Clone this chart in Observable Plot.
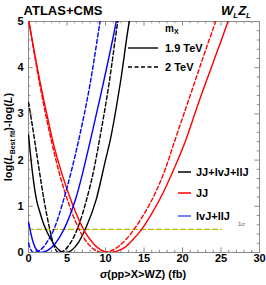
<!DOCTYPE html>
<html><head><meta charset="utf-8">
<script src="https://cdn.jsdelivr.net/npm/d3@7"></script>
<script src="https://cdn.jsdelivr.net/npm/@observablehq/plot@0.6"></script>
<style>body{margin:0;background:#fff} svg{display:block}</style>
</head><body><div id="chart"></div>
<script>
// ---- data ----
const xTicks = [0, 5, 10, 15, 20, 25, 30];
const yTicks = [0, 1, 2, 3, 4, 5];
const xMinorTicks = [0,1,2,3,4,5,6,7,8,9,10,11,12,13,14,15,16,17,18,19,20,21,22,23,24,25,26,27,28,29,30];
const yMinorTicks = [0,0.2,0.4,0.6,0.8,1,1.2,1.4,1.6,1.8,2,2.2,2.4,2.6,2.8,3,3.2,3.4,3.6,3.8,4,4.2,4.4,4.6,4.8,5];

// JJ+lvJ+llJ
const allSolidX = [0, 0.5, 1, 1.5, 2, 3, 4, 4.8, 5.6, 6.5, 7.5, 8.8, 10, 10.6, 12, 13.1, 13.5];
const allSolidY = [2.55, 1.75, 1.17, 0.86, 0.6, 0.26, 0.05, 0, 0.05, 0.22, 0.55, 1.15, 2.0, 2.42, 3.75, 5.0, 5.3];
const allDashX = [0, 0.4, 0.8, 1.3, 2.0, 2.7, 3.3, 3.9, 4.5, 5.5, 6.5, 7.5, 8.5, 9.2, 10.5, 11.6, 12];
const allDashY = [3.25, 2.85, 2.42, 1.88, 1.15, 0.55, 0.15, 0, 0.03, 0.22, 0.58, 1.12, 1.8, 2.42, 3.7, 5.0, 5.4];
// JJ
const jjSolidX = [0, 1.2, 2.5, 3.1, 4.5, 5.7, 7, 8.5, 9.5, 10.5, 11.5, 12.5, 13.5, 14.7, 16, 17.5, 19, 20.4, 22, 24, 25.9, 26.5];
const jjSolidY = [5.05, 3.95, 2.9, 2.45, 1.62, 1.05, 0.55, 0.18, 0.045, 0, 0.03, 0.11, 0.27, 0.5, 0.84, 1.3, 1.85, 2.42, 3.2, 4.12, 5.0, 5.3];
const jjDashX = [0, 1.1, 2.3, 2.9, 4, 5.3, 6.4, 7.5, 8.5, 9.6, 10.6, 11.6, 12.6, 13.7, 15, 16.5, 17.8, 19, 21, 23, 24.3, 24.8];
const jjDashY = [5.07, 3.97, 2.93, 2.47, 1.72, 1.02, 0.56, 0.24, 0.067, 0, 0.03, 0.12, 0.27, 0.5, 0.83, 1.3, 1.82, 2.42, 3.4, 4.38, 5.0, 5.25];
// lvJ+llJ
const lepSolidX = [0, 0.5, 1, 1.6, 2.5, 3.5, 4.6, 6.2, 8.0, 9.5, 11.4, 11.8];
const lepSolidY = [0.66, 0.28, 0.07, 0, 0.045, 0.2, 0.5, 1.2, 2.4, 3.5, 5.0, 5.35];
const lepDashX = [0, 0.3, 0.7, 1.5, 2.5, 3.3, 4.4, 5.5, 6.5, 8, 9.3, 9.7];
const lepDashY = [0.2, 0.06, 0, 0.05, 0.25, 0.5, 1.05, 1.72, 2.42, 3.65, 5.0, 5.4];

const sigmaLineX = [0, 25];
const sigmaLevel = 0.5;

const seriesNames = ["JJ+lvJ+llJ", "JJ", "lvJ+llJ"];
const seriesColors = ["#000000", "#ff0000", "#0000ff"];
const massLabels = ["1.9 TeV", "2 TeV"];

// ---- build tables ----
const curves = [
  {name: "JJ+lvJ+llJ", mass: "1.9 TeV", xs: allSolidX, ys: allSolidY, color: "#000000"},
  {name: "JJ+lvJ+llJ", mass: "2 TeV", xs: allDashX, ys: allDashY, color: "#000000"},
  {name: "JJ", mass: "1.9 TeV", xs: jjSolidX, ys: jjSolidY, color: "#ff0000"},
  {name: "JJ", mass: "2 TeV", xs: jjDashX, ys: jjDashY, color: "#ff0000"},
  {name: "lvJ+llJ", mass: "1.9 TeV", xs: lepSolidX, ys: lepSolidY, color: "#0000ff"},
  {name: "lvJ+llJ", mass: "2 TeV", xs: lepDashX, ys: lepDashY, color: "#0000ff"}
];
const sigmaRows = sigmaLineX.map(x => ({x, y: sigmaLevel}));

const gray = "#8a8a8a";
const xMajLen = 0.6, xMinLen = 0.3, yMajLen = 0.1, yMinLen = 0.05;
const isMajX = d => xTicks.includes(d);
const isMajY = d => Math.abs(d - Math.round(d)) < 1e-9;

const marks = [
  Plot.frame({stroke: gray}),
  Plot.ruleX(xMinorTicks, {x: d => d, y1: 0, y2: d => isMajX(d) ? yMajLen : yMinLen, stroke: gray}),
  Plot.ruleX(xMinorTicks, {x: d => d, y1: 5, y2: d => 5 - (isMajX(d) ? yMajLen : yMinLen), stroke: gray}),
  Plot.ruleY(yMinorTicks, {y: d => d, x1: 0, x2: d => isMajY(d) ? xMajLen : xMinLen, stroke: gray}),
  Plot.ruleY(yMinorTicks, {y: d => d, x1: 30, x2: d => 30 - (isMajY(d) ? xMajLen : xMinLen), stroke: gray}),
  Plot.axisX({ticks: xTicks, tickFormat: "d", tickSize: 0, tickPadding: 2, fontWeight: "bold", fontSize: 11, label: null}),
  Plot.axisY({ticks: yTicks, tickFormat: "d", tickSize: 0, tickPadding: 5, fontWeight: "bold", fontSize: 11, label: null}),
  Plot.line(sigmaRows, {x: "x", y: "y", stroke: "#b8b800", strokeWidth: 1.3, strokeDasharray: "5,3"})
];
for (const c of curves) {
  const rows = c.xs.map((x, i) => ({x, y: c.ys[i]}));
  marks.push(Plot.line(rows, {
    x: "x", y: "y", stroke: c.color, strokeWidth: 1.4, curve: "monotone-x", clip: true,
    strokeDasharray: c.mass === "2 TeV" ? "4,2.5" : null
  }));
}

const svg = Plot.plot({
  width: 266, height: 285,
  marginTop: 21, marginBottom: 33, marginLeft: 28, marginRight: 7,
  style: {fontFamily: "'Liberation Sans', Arial, sans-serif", fontSize: "11px", background: "#fff"},
  x: {domain: [0, 30]},
  y: {domain: [0, 5]},
  marks
});
document.getElementById("chart").appendChild(svg);

// ---- annotations ----
const s = d3.select(svg);
const ff = "'Liberation Sans', Arial, sans-serif";
const txt = (x, y, size) => s.append("text").attr("x", x).attr("y", y).attr("text-anchor", "start")
  .attr("font-family", ff).attr("font-weight", "bold").attr("font-size", size);

txt(63, 15, 13).attr("text-anchor", "middle").text("ATLAS+CMS");
const wz = txt(236, 15, 13).attr("text-anchor", "middle").attr("font-style", "italic");
wz.append("tspan").text("W");
wz.append("tspan").attr("font-size", 8).attr("dy", 2.5).text("L");
wz.append("tspan").attr("dy", -2.5).text("Z");
wz.append("tspan").attr("font-size", 8).attr("dy", 2.5).text("L");

// y label
const yl = s.append("text").attr("transform", "translate(12,137) rotate(-90)").attr("text-anchor", "middle")
  .attr("font-family", ff).attr("font-weight", "bold").attr("font-size", 11);
yl.append("tspan").text("log(");
yl.append("tspan").attr("font-style", "italic").text("L");
yl.append("tspan").attr("font-size", 7).attr("dy", 2.5).text("Best fit");
yl.append("tspan").attr("dy", -2.5).text(")-log(");
yl.append("tspan").attr("font-style", "italic").text("L");
yl.append("tspan").text(")");

// x label
const xl = txt(143, 278, 11).attr("text-anchor", "middle");
xl.append("tspan").attr("font-style", "italic").text("σ");
xl.append("tspan").text("(pp>X>WZ) (fb)");

// mass legend
const ml = txt(165, 32, 10);
ml.append("tspan").text("m");
ml.append("tspan").attr("font-size", 7).attr("dy", 2).text("X");
[[48, null, massLabels[0]], [67, "4,2.5", massLabels[1]]].forEach(([y, dash, lab]) => {
  s.append("line").attr("x1", 128).attr("x2", 158).attr("y1", y).attr("y2", y)
    .attr("stroke", "#000").attr("stroke-width", 1.4).attr("stroke-dasharray", dash);
  txt(165, y + 4, 11).text(lab);
});
// series legend
[172, 193, 216].forEach((y, i) => {
  s.append("line").attr("x1", 178).attr("x2", 191).attr("y1", y).attr("y2", y)
    .attr("stroke", i === 2 ? "#5050ff" : seriesColors[i]).attr("stroke-width", 1.5);
  txt(196, y + 4, 11).text(seriesNames[i]);
});
// 1 sigma label
const sg = s.append("text").attr("x", 238).attr("y", 226).attr("text-anchor", "start")
  .attr("font-family", ff).attr("font-size", 6).attr("fill", "#555");
sg.append("tspan").text("1");
sg.append("tspan").attr("font-style", "italic").text("σ");
</script>
</body></html>
